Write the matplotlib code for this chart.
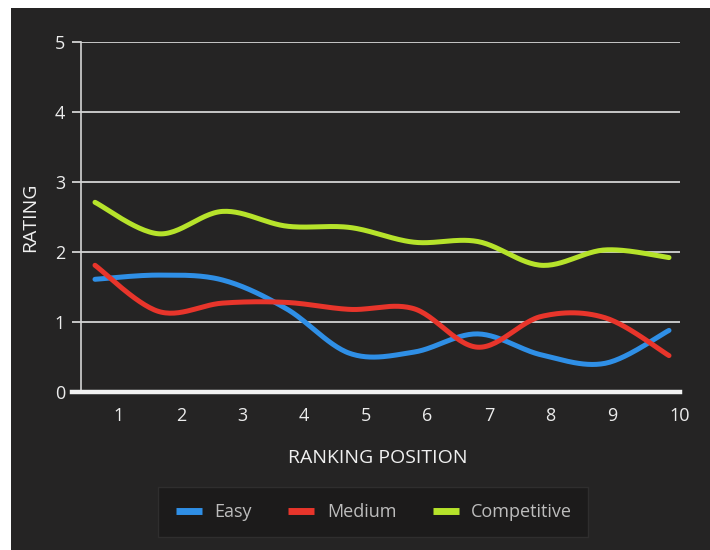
import numpy as np
import matplotlib
matplotlib.use("Agg")
import matplotlib.pyplot as plt
from matplotlib.patches import Rectangle
from matplotlib.lines import Line2D

# ---- data ----
positions = [1, 2, 3, 4, 5, 6, 7, 8, 9, 10]
tick_labels = ["1", "2", "3", "4", "5", "6", "7", "8", "9", "10"]
easy = [1.61, 1.67, 1.60, 1.19, 0.55, 0.57, 0.83, 0.53, 0.41, 0.88]
medium = [1.81, 1.15, 1.27, 1.28, 1.18, 1.19, 0.64, 1.08, 1.06, 0.52]
competitive = [2.71, 2.26, 2.58, 2.37, 2.35, 2.14, 2.15, 1.81, 2.03, 1.92]
series_names = ["Easy", "Medium", "Competitive"]
series_colors = ["#2f8fe6", "#e8352b", "#b6e32b"]

# layout: where the category labels sit (in data units, offset from the points)
tick_pos = [1.376, 2.348, 3.305, 4.277, 5.249, 6.205, 7.178, 8.134, 9.106, 10.17]


def catmull_rom(x, y, n=30):
    x = np.asarray(x, float)
    y = np.asarray(y, float)
    P = np.column_stack([x, y])
    P = np.vstack([P[0], P, P[-1]])
    out = []
    t = np.linspace(0, 1, n)[:, None]
    for i in range(1, len(P) - 2):
        p0, p1, p2, p3 = P[i - 1], P[i], P[i + 1], P[i + 2]
        seg = 0.5 * ((2 * p1) + (-p0 + p2) * t + (2 * p0 - 5 * p1 + 4 * p2 - p3) * t ** 2
                     + (-p0 + 3 * p1 - 3 * p2 + p3) * t ** 3)
        out.append(seg if i == 1 else seg[1:])
    S = np.vstack(out)
    return S[:, 0], S[:, 1]


plt.rcParams['font.family'] = ['Open Sans', 'DejaVu Sans']

W, H = 710, 550
fig = plt.figure(figsize=(W / 100, H / 100), dpi=100)
fig.patch.set_facecolor("white")
fig.patches.append(Rectangle((11 / W, 0), 1, 1 - 8 / H, transform=fig.transFigure,
                             facecolor="#252424", edgecolor="none", zorder=-10))

ax_l, ax_r, ax_t, ax_b = 81, 680, 42, 392
ax = fig.add_axes([ax_l / W, 1 - ax_b / H, (ax_r - ax_l) / W, (ax_b - ax_t) / H])
ax.set_facecolor("none")
ax.set_zorder(1)

sp = 63.78
ax.set_xlim(1 - (95 - ax_l) / sp, 10 + (ax_r - 669) / sp)
ax.set_ylim(0, 5)

grid_c = "#d4d4d4"
ax.set_yticks([0, 1, 2, 3, 4, 5])
ax.yaxis.grid(True, color=grid_c, linewidth=1.3)
ax.set_axisbelow(True)
ax.tick_params(axis="y", length=6.5, width=1.3, color=grid_c, labelcolor="#ececec",
               labelsize=13, pad=5)

ax.set_xticks(tick_pos)
ax.set_xticklabels(tick_labels)
ax.tick_params(axis="x", length=0, labelsize=13, pad=11, labelcolor="#ececec")

for s in ["top", "right", "bottom"]:
    ax.spines[s].set_visible(False)
ax.spines["left"].set_color(grid_c)
ax.spines["left"].set_linewidth(1.2)

# thick baseline
ax.add_line(Line2D([-9 / (ax_r - ax_l), 1.0], [0, 0], transform=ax.transAxes,
                   color="#f2f2f2", linewidth=3.2, clip_on=False, zorder=3))

for vals, name, col in zip([easy, medium, competitive], series_names, series_colors):
    sx, sy = catmull_rom(positions, vals)
    ax.plot(sx, sy, color=col, linewidth=3.6, solid_capstyle="round", zorder=4, label=name)

fig.text(30 / W, 1 - 217 / H, "RATING", rotation=90, ha="center", va="center",
         color="#f0f0f0", fontsize=14)
fig.text(378 / W, 1 - 458 / H, "RANKING POSITION", ha="center", va="center",
         color="#f0f0f0", fontsize=14)

# legend box
fig.patches.append(Rectangle((158 / W, 1 - 537 / H), (588 - 158) / W, 50 / H,
                             transform=fig.transFigure, facecolor="#1c1b1b",
                             edgecolor="#2f2e2e", linewidth=1.0, zorder=-5))
handles = [Line2D([0], [0], color=c, linewidth=5, solid_capstyle="butt") for c in series_colors]
leg = fig.legend(handles, series_names, loc="center", bbox_to_anchor=(374 / W, 1 - 512 / H),
                 ncol=3, frameon=False, fontsize=13, handlelength=1.45, handletextpad=0.7,
                 columnspacing=2.0, borderpad=0.5)
for t in leg.get_texts():
    t.set_color("#bdbdbd")

fig.savefig("out.png", dpi=100, facecolor=fig.get_facecolor())
